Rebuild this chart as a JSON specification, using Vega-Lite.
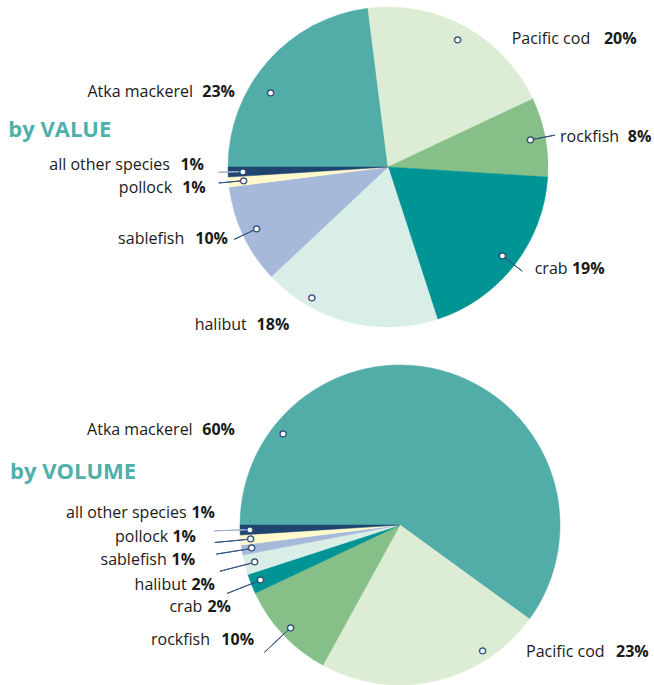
{
  "$schema": "https://vega.github.io/schema/vega-lite/v6.json",
  "width": 654,
  "height": 685,
  "autosize": "none",
  "padding": 0,
  "background": "white",
  "config": {"view": {"stroke": null}, "text": {"font": "Open Sans", "fontSize": 16, "color": "#1A1A1A"}},
  "data": {"values": [
    {"measure": "by VALUE", "species": "Atka mackerel", "share": 0.23, "rank": 1},
    {"measure": "by VALUE", "species": "Pacific cod", "share": 0.20, "rank": 2},
    {"measure": "by VALUE", "species": "rockfish", "share": 0.08, "rank": 3},
    {"measure": "by VALUE", "species": "crab", "share": 0.19, "rank": 4},
    {"measure": "by VALUE", "species": "halibut", "share": 0.18, "rank": 5},
    {"measure": "by VALUE", "species": "sablefish", "share": 0.10, "rank": 6},
    {"measure": "by VALUE", "species": "pollock", "share": 0.01, "rank": 7},
    {"measure": "by VALUE", "species": "all other species", "share": 0.01, "rank": 8},
    {"measure": "by VOLUME", "species": "Atka mackerel", "share": 0.60, "rank": 1},
    {"measure": "by VOLUME", "species": "Pacific cod", "share": 0.23, "rank": 2},
    {"measure": "by VOLUME", "species": "rockfish", "share": 0.10, "rank": 3},
    {"measure": "by VOLUME", "species": "crab", "share": 0.02, "rank": 4},
    {"measure": "by VOLUME", "species": "halibut", "share": 0.02, "rank": 5},
    {"measure": "by VOLUME", "species": "sablefish", "share": 0.01, "rank": 6},
    {"measure": "by VOLUME", "species": "pollock", "share": 0.01, "rank": 7},
    {"measure": "by VOLUME", "species": "all other species", "share": 0.01, "rank": 8}
  ]},
  "transform": [
    {"stack": "share", "groupby": ["measure"], "sort": [{"field": "rank", "order": "ascending"}], "as": ["s0", "s1"]}
  ],
  "encoding": {
    "x": {"field": "measure", "type": "nominal", "scale": {"type": "point", "domain": ["by VALUE", "by VOLUME"], "range": [388, 400], "padding": 0}, "axis": null},
    "y": {"field": "measure", "type": "nominal", "scale": {"type": "point", "domain": ["by VALUE", "by VOLUME"], "range": [167, 525], "padding": 0}, "axis": null}
  },
  "layer": [
    {
      "mark": {"type": "arc", "outerRadius": 160, "strokeWidth": 0.5},
      "encoding": {
        "theta": {"field": "s0", "type": "quantitative", "scale": {"domain": [0, 1], "range": [-1.5707963, 4.712389]}},
        "theta2": {"field": "s1"},
        "color": {"field": "species", "type": "nominal", "legend": null,
          "scale": {"domain": ["Atka mackerel", "Pacific cod", "rockfish", "crab", "halibut", "sablefish", "pollock", "all other species"],
                    "range": ["#52ADA9", "#DDEDD5", "#86BF88", "#009494", "#D9EEE7", "#A7B9DB", "#FFF9CC", "#1F4470"]}},
        "stroke": {"field": "species", "type": "nominal", "legend": null,
          "scale": {"domain": ["Atka mackerel", "Pacific cod", "rockfish", "crab", "halibut", "sablefish", "pollock", "all other species"],
                    "range": ["#52ADA9", "#DDEDD5", "#86BF88", "#009494", "#D9EEE7", "#A7B9DB", "#FFF9CC", "#1F4470"]}}
      }
    },
    {
      "transform": [{"filter": "datum.measure === 'by VALUE' && indexof(['rockfish','crab','sablefish','pollock','all other species'], datum.species) >= 0"}],
      "mark": {"type": "arc", "innerRadius": 148, "outerRadius": 170, "padAngle": 3, "fill": "transparent", "strokeWidth": 1},
      "encoding": {
        "theta": {"field": "s0", "type": "quantitative"},
        "theta2": {"field": "s1"},
        "stroke": {"condition": {"test": "datum.species === 'all other species'", "value": "#9DB3D3"}, "value": "#345483"}
      }
    },
    {
      "transform": [{"filter": "datum.measure === 'by VOLUME' && indexof(['rockfish','crab','halibut','sablefish','pollock','all other species'], datum.species) >= 0"}],
      "mark": {"type": "arc", "innerRadius": 153, "outerRadius": 186, "padAngle": 3, "fill": "transparent", "strokeWidth": 1},
      "encoding": {
        "theta": {"field": "s0", "type": "quantitative"},
        "theta2": {"field": "s1"},
        "stroke": {"condition": {"test": "datum.species === 'all other species'", "value": "#9DB3D3"}, "value": "#345483"}
      }
    },
    {
      "mark": {"type": "text", "align": "left", "baseline": "alphabetic", "dx": -379.7, "dy": -30.3, "font": "Open Sans", "fontSize": 22, "fontWeight": "bold", "color": "#4FB0AA"},
      "encoding": {"text": {"condition": {"test": "datum.rank === 1 && datum.measure === 'by VALUE'", "field": "measure", "type": "nominal"}, "value": ""}}
    },
    {
      "mark": {"type": "text", "align": "left", "baseline": "alphabetic", "dx": -390, "dy": -46, "font": "Open Sans", "fontSize": 22, "fontWeight": "bold", "color": "#4FB0AA"},
      "encoding": {"text": {"condition": {"test": "datum.rank === 1 && datum.measure === 'by VOLUME'", "field": "measure", "type": "nominal"}, "value": ""}}
    },
    {
      "encoding": {
        "theta": {"field": "share", "type": "quantitative", "stack": true, "scale": {"domain": [0, 1], "range": [-1.5707963, 4.712389]}},
        "radius": {"field": "measure", "type": "nominal", "scale": {"type": "point", "domain": ["by VALUE", "by VOLUME"], "range": [145, 150], "padding": 0}},
        "order": {"field": "rank", "type": "quantitative"},
        "detail": {"field": "species", "type": "nominal"}
      },
      "layer": [
        {"mark": {"type": "text", "font": "DejaVu Sans", "fontSize": 8, "fill": "white", "stroke": "#1F3F6E", "strokeWidth": 1.2, "baseline": "middle", "align": "center"},
         "encoding": {"text": {"condition": {"test": "!((datum.measure === 'by VALUE' && (datum.species === 'Atka mackerel' || datum.species === 'halibut')) || (datum.measure === 'by VOLUME' && (datum.species === 'Atka mackerel' || datum.species === 'Pacific cod')))", "value": "●"}, "value": ""}}},
        {"mark": {"type": "text", "font": "DejaVu Sans", "fontSize": 8, "fill": "white", "stroke": "#1F3F6E", "strokeWidth": 1.2, "baseline": "middle", "align": "center", "dx": -8.5, "dy": 21.6},
         "encoding": {"text": {"condition": {"test": "datum.measure === 'by VALUE' && datum.species === 'Atka mackerel'", "value": "●"}, "value": ""}}},
        {"mark": {"type": "text", "font": "DejaVu Sans", "fontSize": 8, "fill": "white", "stroke": "#1F3F6E", "strokeWidth": 1.2, "baseline": "middle", "align": "center", "dx": -39.9, "dy": -9.1},
         "encoding": {"text": {"condition": {"test": "datum.measure === 'by VALUE' && datum.species === 'halibut'", "value": "●"}, "value": ""}}},
        {"mark": {"type": "text", "font": "DejaVu Sans", "fontSize": 8, "fill": "white", "stroke": "#1F3F6E", "strokeWidth": 1.2, "baseline": "middle", "align": "center", "dx": -163.1, "dy": 52},
         "encoding": {"text": {"condition": {"test": "datum.measure === 'by VOLUME' && datum.species === 'Atka mackerel'", "value": "●"}, "value": ""}}},
        {"mark": {"type": "text", "font": "DejaVu Sans", "fontSize": 8, "fill": "white", "stroke": "#1F3F6E", "strokeWidth": 1.2, "baseline": "middle", "align": "center", "dx": 50, "dy": -20.7},
         "encoding": {"text": {"condition": {"test": "datum.measure === 'by VOLUME' && datum.species === 'Pacific cod'", "value": "●"}, "value": ""}}},

        {"mark": {"type": "text", "align": "right", "baseline": "alphabetic", "dx": -86.2, "dy": 26.2},
         "encoding": {"text": {"condition": {"test": "datum.measure === 'by VALUE' && datum.species === 'Atka mackerel'", "field": "species", "type": "nominal"}, "value": ""}}},
        {"mark": {"type": "text", "align": "right", "baseline": "alphabetic", "dx": -44.2, "dy": 26.2, "fontWeight": "bold"},
         "encoding": {"text": {"condition": {"test": "datum.measure === 'by VALUE' && datum.species === 'Atka mackerel'", "field": "share", "type": "quantitative", "format": ".0%"}, "value": ""}}},
        {"mark": {"type": "text", "align": "left", "baseline": "alphabetic", "dx": 53.8, "dy": 4.1},
         "encoding": {"text": {"condition": {"test": "datum.measure === 'by VALUE' && datum.species === 'Pacific cod'", "field": "species", "type": "nominal"}, "value": ""}}},
        {"mark": {"type": "text", "align": "left", "baseline": "alphabetic", "dx": 146.1, "dy": 4.1, "fontWeight": "bold"},
         "encoding": {"text": {"condition": {"test": "datum.measure === 'by VALUE' && datum.species === 'Pacific cod'", "field": "share", "type": "quantitative", "format": ".0%"}, "value": ""}}},
        {"mark": {"type": "text", "align": "left", "baseline": "alphabetic", "dx": 29.6, "dy": 1.9},
         "encoding": {"text": {"condition": {"test": "datum.measure === 'by VALUE' && datum.species === 'rockfish'", "field": "species", "type": "nominal"}, "value": ""}}},
        {"mark": {"type": "text", "align": "left", "baseline": "alphabetic", "dx": 97.3, "dy": 1.9, "fontWeight": "bold"},
         "encoding": {"text": {"condition": {"test": "datum.measure === 'by VALUE' && datum.species === 'rockfish'", "field": "share", "type": "quantitative", "format": ".0%"}, "value": ""}}},
        {"mark": {"type": "text", "align": "left", "baseline": "alphabetic", "dx": 32.1, "dy": 18.1},
         "encoding": {"text": {"condition": {"test": "datum.measure === 'by VALUE' && datum.species === 'crab'", "field": "species", "type": "nominal"}, "value": ""}}},
        {"mark": {"type": "text", "align": "left", "baseline": "alphabetic", "dx": 69.4, "dy": 18.1, "fontWeight": "bold"},
         "encoding": {"text": {"condition": {"test": "datum.measure === 'by VALUE' && datum.species === 'crab'", "field": "share", "type": "quantitative", "format": ".0%"}, "value": ""}}},
        {"mark": {"type": "text", "align": "right", "baseline": "alphabetic", "dx": -105.2, "dy": 22.6},
         "encoding": {"text": {"condition": {"test": "datum.measure === 'by VALUE' && datum.species === 'halibut'", "field": "species", "type": "nominal"}, "value": ""}}},
        {"mark": {"type": "text", "align": "right", "baseline": "alphabetic", "dx": -62.6, "dy": 22.6, "fontWeight": "bold"},
         "encoding": {"text": {"condition": {"test": "datum.measure === 'by VALUE' && datum.species === 'halibut'", "field": "share", "type": "quantitative", "format": ".0%"}, "value": ""}}},
        {"mark": {"type": "text", "align": "right", "baseline": "alphabetic", "dx": -72.5, "dy": 15.6},
         "encoding": {"text": {"condition": {"test": "datum.measure === 'by VALUE' && datum.species === 'sablefish'", "field": "species", "type": "nominal"}, "value": ""}}},
        {"mark": {"type": "text", "align": "right", "baseline": "alphabetic", "dx": -28.8, "dy": 15.6, "fontWeight": "bold"},
         "encoding": {"text": {"condition": {"test": "datum.measure === 'by VALUE' && datum.species === 'sablefish'", "field": "share", "type": "quantitative", "format": ".0%"}, "value": ""}}},
        {"mark": {"type": "text", "align": "right", "baseline": "alphabetic", "dx": -71.6, "dy": 12.7},
         "encoding": {"text": {"condition": {"test": "datum.measure === 'by VALUE' && datum.species === 'pollock'", "field": "species", "type": "nominal"}, "value": ""}}},
        {"mark": {"type": "text", "align": "right", "baseline": "alphabetic", "dx": -37.9, "dy": 12.7, "fontWeight": "bold"},
         "encoding": {"text": {"condition": {"test": "datum.measure === 'by VALUE' && datum.species === 'pollock'", "field": "share", "type": "quantitative", "format": ".0%"}, "value": ""}}},
        {"mark": {"type": "text", "align": "right", "baseline": "alphabetic", "dx": -73.1, "dy": -1.6},
         "encoding": {"text": {"condition": {"test": "datum.measure === 'by VALUE' && datum.species === 'all other species'", "field": "species", "type": "nominal"}, "value": ""}}},
        {"mark": {"type": "text", "align": "right", "baseline": "alphabetic", "dx": -39.1, "dy": -1.6, "fontWeight": "bold"},
         "encoding": {"text": {"condition": {"test": "datum.measure === 'by VALUE' && datum.species === 'all other species'", "field": "share", "type": "quantitative", "format": ".0%"}, "value": ""}}},

        {"mark": {"type": "text", "align": "right", "baseline": "alphabetic", "dx": -253.7, "dy": 52.7},
         "encoding": {"text": {"condition": {"test": "datum.measure === 'by VOLUME' && datum.species === 'Atka mackerel'", "field": "species", "type": "nominal"}, "value": ""}}},
        {"mark": {"type": "text", "align": "right", "baseline": "alphabetic", "dx": -211.4, "dy": 52.7, "fontWeight": "bold"},
         "encoding": {"text": {"condition": {"test": "datum.measure === 'by VOLUME' && datum.species === 'Atka mackerel'", "field": "share", "type": "quantitative", "format": ".0%"}, "value": ""}}},
        {"mark": {"type": "text", "align": "left", "baseline": "alphabetic", "dx": 93.3, "dy": -14.7},
         "encoding": {"text": {"condition": {"test": "datum.measure === 'by VOLUME' && datum.species === 'Pacific cod'", "field": "species", "type": "nominal"}, "value": ""}}},
        {"mark": {"type": "text", "align": "left", "baseline": "alphabetic", "dx": 183.3, "dy": -14.7, "fontWeight": "bold"},
         "encoding": {"text": {"condition": {"test": "datum.measure === 'by VOLUME' && datum.species === 'Pacific cod'", "field": "share", "type": "quantitative", "format": ".0%"}, "value": ""}}},
        {"mark": {"type": "text", "align": "right", "baseline": "alphabetic", "dx": -80.6, "dy": 17.3},
         "encoding": {"text": {"condition": {"test": "datum.measure === 'by VOLUME' && datum.species === 'rockfish'", "field": "species", "type": "nominal"}, "value": ""}}},
        {"mark": {"type": "text", "align": "right", "baseline": "alphabetic", "dx": -36.6, "dy": 17.3, "fontWeight": "bold"},
         "encoding": {"text": {"condition": {"test": "datum.measure === 'by VOLUME' && datum.species === 'rockfish'", "field": "share", "type": "quantitative", "format": ".0%"}, "value": ""}}},
        {"mark": {"type": "text", "align": "right", "baseline": "alphabetic", "dx": -58.2, "dy": 32.1},
         "encoding": {"text": {"condition": {"test": "datum.measure === 'by VOLUME' && datum.species === 'crab'", "field": "species", "type": "nominal"}, "value": ""}}},
        {"mark": {"type": "text", "align": "right", "baseline": "alphabetic", "dx": -29.5, "dy": 32.1, "fontWeight": "bold"},
         "encoding": {"text": {"condition": {"test": "datum.measure === 'by VOLUME' && datum.species === 'crab'", "field": "share", "type": "quantitative", "format": ".0%"}, "value": ""}}},
        {"mark": {"type": "text", "align": "right", "baseline": "alphabetic", "dx": -68, "dy": 27.7},
         "encoding": {"text": {"condition": {"test": "datum.measure === 'by VOLUME' && datum.species === 'halibut'", "field": "species", "type": "nominal"}, "value": ""}}},
        {"mark": {"type": "text", "align": "right", "baseline": "alphabetic", "dx": -39.7, "dy": 27.7, "fontWeight": "bold"},
         "encoding": {"text": {"condition": {"test": "datum.measure === 'by VOLUME' && datum.species === 'halibut'", "field": "share", "type": "quantitative", "format": ".0%"}, "value": ""}}},
        {"mark": {"type": "text", "align": "right", "baseline": "alphabetic", "dx": -85.1, "dy": 16.5},
         "encoding": {"text": {"condition": {"test": "datum.measure === 'by VOLUME' && datum.species === 'sablefish'", "field": "species", "type": "nominal"}, "value": ""}}},
        {"mark": {"type": "text", "align": "right", "baseline": "alphabetic", "dx": -56.8, "dy": 16.5, "fontWeight": "bold"},
         "encoding": {"text": {"condition": {"test": "datum.measure === 'by VOLUME' && datum.species === 'sablefish'", "field": "share", "type": "quantitative", "format": ".0%"}, "value": ""}}},
        {"mark": {"type": "text", "align": "right", "baseline": "alphabetic", "dx": -82.4, "dy": 2.6},
         "encoding": {"text": {"condition": {"test": "datum.measure === 'by VOLUME' && datum.species === 'pollock'", "field": "species", "type": "nominal"}, "value": ""}}},
        {"mark": {"type": "text", "align": "right", "baseline": "alphabetic", "dx": -54.7, "dy": 2.6, "fontWeight": "bold"},
         "encoding": {"text": {"condition": {"test": "datum.measure === 'by VOLUME' && datum.species === 'pollock'", "field": "share", "type": "quantitative", "format": ".0%"}, "value": ""}}},
        {"mark": {"type": "text", "align": "right", "baseline": "alphabetic", "dx": -63.4, "dy": -11.4},
         "encoding": {"text": {"condition": {"test": "datum.measure === 'by VOLUME' && datum.species === 'all other species'", "field": "species", "type": "nominal"}, "value": ""}}},
        {"mark": {"type": "text", "align": "right", "baseline": "alphabetic", "dx": -35.1, "dy": -11.4, "fontWeight": "bold"},
         "encoding": {"text": {"condition": {"test": "datum.measure === 'by VOLUME' && datum.species === 'all other species'", "field": "share", "type": "quantitative", "format": ".0%"}, "value": ""}}}
      ]
    }
  ]
}
